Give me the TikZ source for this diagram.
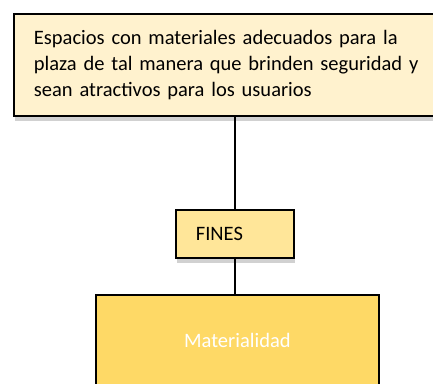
\documentclass[tikz,border=0pt]{standalone}
\usepackage{fontspec}
\setmainfont{Carlito}
\usepackage{tikz}
\usetikzlibrary{positioning, shadows}
\definecolor{goalcream}{RGB}{255, 242, 206}
\definecolor{finesyellow}{RGB}{255, 230, 153}
\definecolor{matyellow}{RGB}{254, 217, 102}

\begin{document}
\begin{tikzpicture}[
    x=1pt, y=-1pt,
    base/.style={draw, line width=1.8pt, anchor=north west, inner ysep=0pt,
        font=\fontsize{20.5pt}{26pt}\selectfont,
        drop shadow={shadow xshift=1pt, shadow yshift=-5pt, opacity=0.3, fill=black!60}},
    link/.style={line width=1.8pt}
]
    \clip (0,0) rectangle (433,383);

    % --- TOP: GOAL ---
    \node[base, fill=goalcream, minimum width=432pt, minimum height=102pt,
        text width=420pt, inner xsep=20pt, align=left] (goal) at (13,13)
        {Espacios con materiales adecuados para la\\ plaza de tal manera que brinden seguridad y\\ sean atractivos para los usuarios};

    % --- MIDDLE: FINES ---
    \node[base, fill=finesyellow, minimum width=118pt, minimum height=48pt,
        text width=78pt, inner xsep=20pt, align=left] (fines) at (175,209) {FINES};

    % --- BOTTOM: MATERIALIDAD ---
    \node[base, fill=matyellow, minimum width=283pt, minimum height=92pt,
        text=white] (mat) at (95,294) {Materialidad};

    \draw[link] (goal.south -| fines.north) -- (fines.north);
    \draw[link] (fines.south) -- (mat.north -| fines.south);

\end{tikzpicture}
\end{document}
